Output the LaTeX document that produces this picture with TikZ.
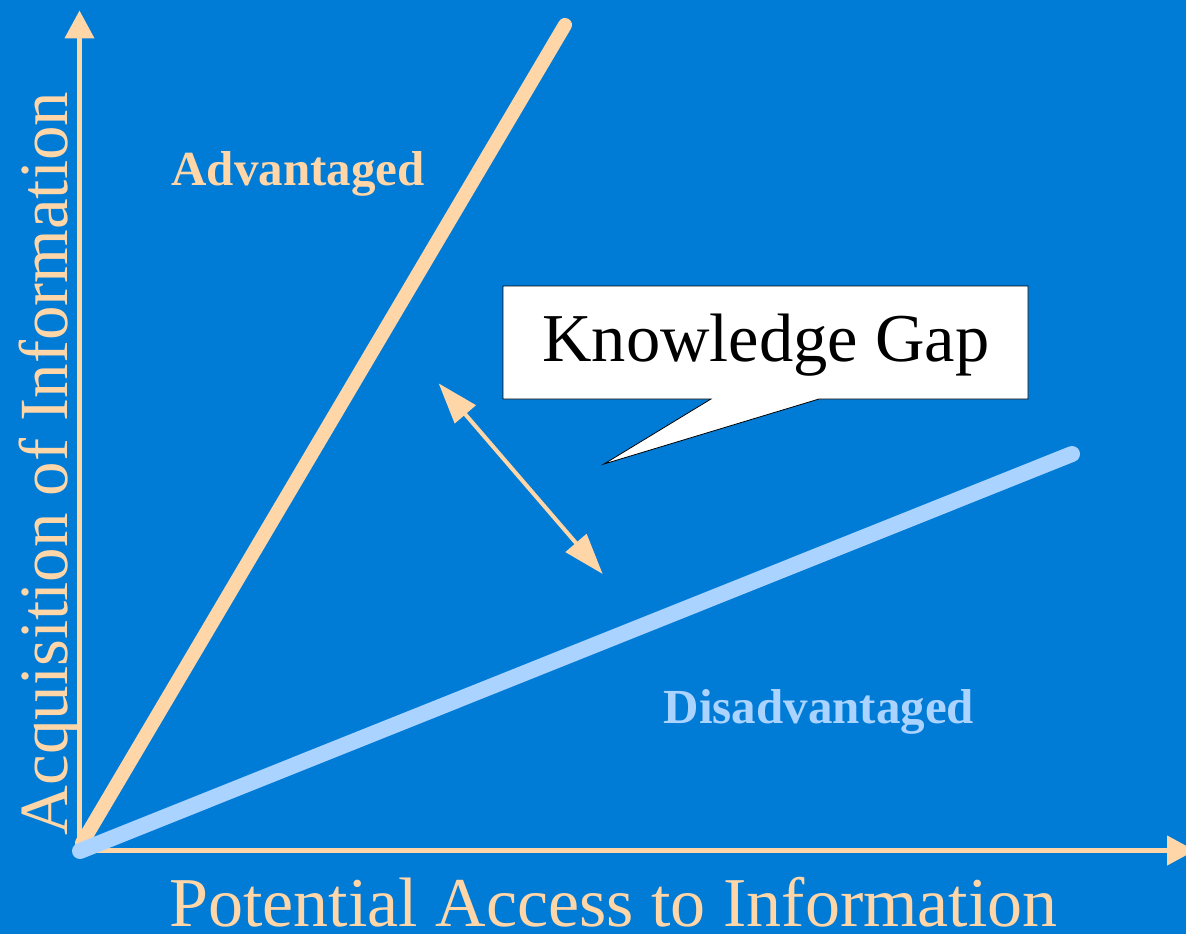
\documentclass[tikz,border=0pt]{standalone}
\usepackage{fontspec}
\setmainfont{Liberation Serif}
\usetikzlibrary{arrows.meta}
\definecolor{bgblue}{RGB}{0,123,214}
\definecolor{peach}{RGB}{255,214,168}
\definecolor{lightblue}{RGB}{170,212,255}
\tikzset{
  axisline/.style={draw=peach, line width=4.5pt, -{Triangle[length=28pt,width=29pt]}},
  gapline/.style={draw=peach, line width=4pt, {Triangle[length=41pt,width=27pt]}-{Triangle[length=41pt,width=27pt]}},
  trendline/.style={line width=#1, line cap=round},
  axislabel/.style={text=peach, font=\fontsize{70}{84}\selectfont, inner sep=0pt},
  grouplabel/.style={font=\bfseries\fontsize{49}{59}\selectfont, inner sep=0pt, anchor=base},
  callout/.style={fill=white, draw=black, line width=0.8pt, line join=miter}
}
\begin{document}
\begin{tikzpicture}[x=1pt,y=-1pt]
\clip (0,0) rectangle (1186,934);
\fill[bgblue] (0,0) rectangle (1186,934);
% axes
\coordinate (origin) at (79.5,850.5);
\coordinate (ytip) at (79.5,10.5);
\coordinate (xtip) at (1195,850.5);
\draw[axisline] (origin) -- (ytip);
\draw[axisline] (origin) -- (xtip);
% trend lines
\coordinate (advstart) at (82,843);
\coordinate (advend) at (565,25);
\coordinate (disstart) at (80,851);
\coordinate (disend) at (1072,454);
\draw[trendline=14pt, peach] (advstart) -- (advend);
\draw[trendline=16pt, lightblue] (disstart) -- (disend);
% gap arrow
\coordinate (gapa) at (438.6,383.3);
\coordinate (gapb) at (602.7,574);
\draw[gapline] (gapa) -- (gapb);
% callout
\coordinate (knw) at (503,286);
\coordinate (kne) at (1028,286);
\coordinate (kse) at (1028,399);
\coordinate (ksw) at (503,399);
\coordinate (pr) at (819,399);
\coordinate (ptip) at (604,464);
\coordinate (pl) at (711,399);
\path[callout] (knw) -- (kne) -- (kse) -- (pr) -- (ptip) -- (pl) -- (ksw) -- cycle;
\node[inner sep=0pt, anchor=base, font=\fontsize{68.5}{82}\selectfont] (kg) at (766,361.5) {Knowledge Gap};
% labels
\node[axislabel, anchor=base, text depth=0pt] (xlabel) at (613.5,926) {Potential Access to Information};
\node[axislabel, anchor=base, rotate=90, font=\fontsize{69}{83}\selectfont] (ylabel) at (67,463.5) {Acquisition of Information};
\node[grouplabel, text=peach] (adv) at (298,185) {Advantaged};
\node[grouplabel, text=lightblue] (dis) at (819,723) {Disadvantaged};
\end{tikzpicture}
\end{document}
